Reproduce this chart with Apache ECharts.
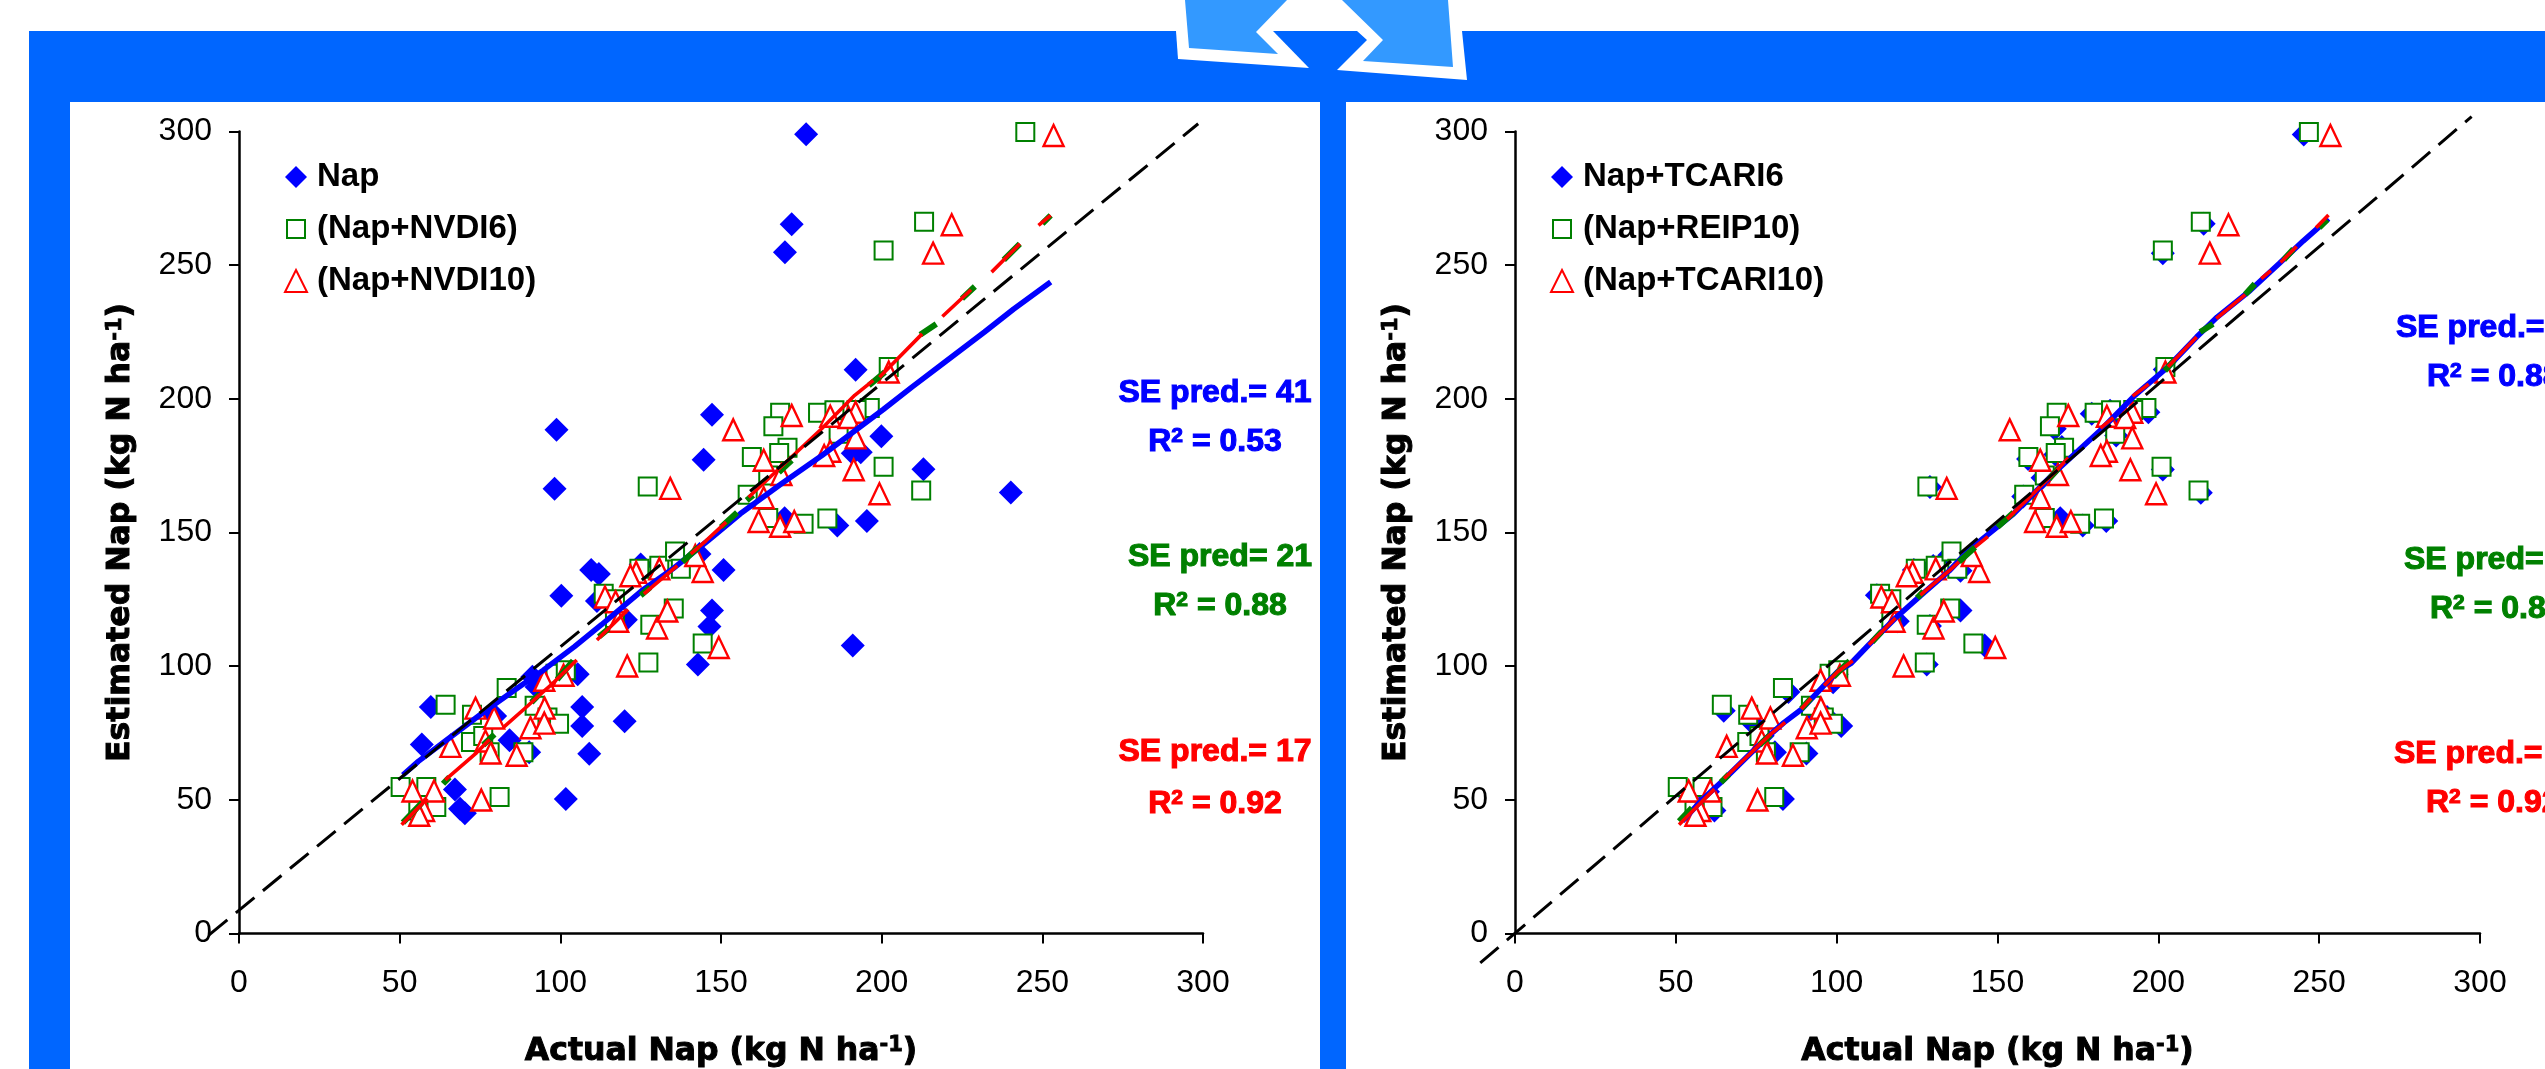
<!DOCTYPE html>
<html><head><meta charset="utf-8">
<style>html,body{margin:0;padding:0;background:#fff}#c{width:2545px;height:1069px}</style>
<script src="https://cdn.jsdelivr.net/npm/echarts@6/dist/echarts.min.js"></script>
</head><body><div id="c"></div>
<script>
const tickValues = [0, 50, 100, 150, 200, 250, 300];
const xTitle = 'Actual Nap (kg N ha{s|-1})';
const yTitle = 'Estimated Nap (kg N ha{s|-1})';
const legendLeft = ['Nap', '(Nap+NVDI6)', '(Nap+NVDI10)'];
const legendRight = ['Nap+TCARI6', '(Nap+REIP10)', '(Nap+TCARI10)'];

const napLeft = [[59.7,84.7],[56.9,70.7],[67.2,53.9],[68.8,46.7],[70.3,45],[84.2,72.3],[90.3,67.8],[79.7,81.4],[101.7,50.3],[109,67.2],[106.8,77.6],[106.8,84.7],[105.4,97],[120,79.4],[92.6,92.2],[91.3,96],[100.3,126.3],[109.6,136],[112,134.5],[111.4,124.4],[120.4,117.4],[125,138],[150.8,136],[147.2,120.8],[146.4,114.8],[142.8,100.6],[191,107.7],[143.3,142],[176.5,299],[172,265.3],[169.9,254.8],[191.9,210.9],[147.2,194],[144.6,177.2],[199.9,186],[213,173.7],[240.2,165],[195.4,154.3],[186.2,152.6],[169.8,155.3],[191,179.6],[193.5,180],[98.8,188.4],[98.2,166.4],[183,195]];
const greenLeft = [[50.3,54.8],[58.3,54.8],[61.4,47.3],[55.8,46],[64.3,85.6],[72.5,81.8],[72.2,71.6],[76,73.9],[78,67.8],[81.1,51.1],[83.3,91.8],[88.5,67.8],[92,85.2],[96,80.8],[99.6,78.5],[98.5,97.2],[101.7,98.5],[113.5,127.1],[117,125],[117,118],[124.6,136.4],[130.8,137.6],[128,115.5],[127.4,101.4],[135.3,121.6],[135.7,142.9],[137.5,136.4],[144.3,108.5],[244.7,299.8],[213.2,266.2],[200.6,255.5],[202.2,211.9],[168.4,194.8],[166.3,189.7],[180.2,194.8],[185.3,195.7],[196.3,196.6],[192.2,195.8],[186.6,186.9],[200.6,174.6],[212.3,165.7],[170.7,181.7],[168.1,179.7],[159.6,178.2],[164.7,171.3],[158.3,164.1],[164.7,155.4],[175.7,153.3],[183.1,155.2],[127.2,167.2]];
const redShared = [[54,53.3],[60.7,53.3],[57.6,46],[56.1,44.2],[65.8,70],[73.6,84.3],[76.7,72],[79.4,80.6],[78.3,67.5],[75.4,49.9],[86.4,66.7],[90.7,77],[95.1,84.3],[95,78.7],[95,94.7],[101,96.6],[120.8,100.1],[130.1,114.3],[133.3,120.6],[149.3,107],[118,116.8],[113.9,125.9],[117.2,124.1],[123.6,135.1],[130.8,136.4],[144.3,135.4],[142,141.4],[121.8,133.8],[253.5,298.5],[221.8,265.1],[216,254.5],[202.2,210],[153.8,188.4],[172,193.8],[184,193.5],[191.9,195],[189.7,193],[163.3,177],[191.9,185.4],[184,180.4],[182.1,178.8],[191.3,173.5],[168.8,171.7],[163.3,163],[199.3,164.5],[161.7,154.1],[168.4,152.3],[172.8,154.1],[134.2,166.5]];
const napRight = [[245.2,298.9],[214.1,265.5],[201.4,254.5],[213.2,164.9],[201.4,173.6],[183.8,154.3],[176.5,152.6],[169.5,155.3],[196.9,195],[186.9,186.3],[167.8,188.8],[179.3,194.4],[101.4,77.6],[90.6,67.3],[80.8,67.8],[83.3,50.3],[128,100.6],[146,107.7],[138.5,135.7],[138.5,120.8],[119,116.8],[64.9,83.3],[73.2,79.5],[85,90.3],[62,46],[98.9,94],[57.5,47],[52,54],[60,53],[75,72],[77,74],[92,84],[97,81],[100,97],[112.5,126.5],[116,124],[124,136],[130,137.5],[129,115],[135,141.5],[168,179.2],[159.5,177.5],[164,170.5],[158,163.5],[129,167],[164,155],[185,195.5],[192,195.5],[202,211],[186,193.5],[170,182],[171,180]];
const greenRight = [[50.6,54.8],[58.3,54.8],[61.4,47.3],[55.8,46],[64.3,85.6],[72.5,81.8],[72.2,71.6],[76,73.9],[78,67.8],[80.6,51.1],[83.3,91.8],[88.5,67.8],[92,85.2],[96,80.8],[98.8,78.5],[97.8,97.2],[100.5,98.5],[113.5,127.1],[117,125],[117,118],[124.6,136.4],[130.8,137.6],[128,115.5],[127.4,101.4],[135.3,121.6],[135.7,142.9],[137.5,136.4],[142.5,108.5],[246.8,299.8],[213.2,266.2],[201.4,255.5],[202.2,211.9],[168.4,194.8],[166.3,189.7],[180.2,194.8],[185.3,195.7],[196.3,196.6],[192.2,195.8],[186.6,186.9],[201,174.6],[212.5,165.7],[170.7,181.7],[168.1,179.7],[159.6,178.2],[164.7,171.3],[158.3,164.1],[164.7,155.4],[175.7,153.3],[183.1,155.2],[128.2,167.2]];

const blueLineLeft = [[51,59.3],[55.8,64.4],[64.2,72],[76.7,83.3],[87.8,92.8],[94.7,98.5],[104.4,107.3],[112.8,115.5],[125.3,128.2],[135,136.4],[146,147],[156,157],[168.8,168.2],[181.4,178.8],[200.5,196],[209.4,204.4],[219.6,213.7],[232,225],[241,233.5],[252.6,243.7]];
const greenLineLeft = [[51,41.5],[57,49],null,[63.5,56],[65.5,58.5],null,[76,70.5],[79.5,74.5],null,[91,86.5],[93.5,89.5],null,[99,95],[104,102],null,[112,111],[115,114],null,[125,126.5],[128,129.5],null,[138,139],[143,144.5],null,[150,152],[155,157.5],null,[158,162],[160,164],null,[168,172.5],[172,177],null,[196,205],[201,210],null,[212,224],[217,228],null,[225,237.5],[229,242],null,[238,252],[243,258],null,[250,265.5],[252.6,268.6]];
const redLineLeft = [[50.6,40.7],[58.6,50.5],null,[64.2,57.5],[73.9,67.6],[78,72.6],null,[82.2,77],[89.9,85.2],[93.3,89],[97.5,93.4],[105.1,102.3],null,[111.4,109.8],[121.1,121.2],null,[126,127],[136.4,137.6],null,[140.6,142],[145.4,147],[151.6,153.9],null,[158.6,163.2],[181.4,188.9],[191.6,201.3],[197.4,206.9],null,[199.3,208.1],[212.6,224.3],null,[218.9,230.8],[227.8,240.8],null,[234.2,247.4],[243,258],null,[248.8,264.9],[252.6,268.6]];
const blueLineRight = [[52,42],[58.6,50.5],[64.9,57.5],[73.9,68.2],[79.4,74.5],[83.6,78.9],[89.2,84],[96.1,92.8],[100.3,97.9],[104.4,101],[110,108],[118.3,118],[126,126.3],[135,135.7],[141.5,143.9],[155,157],[168.4,173.2],[182.5,188.8],[192.7,201.3],[203,211.9],[211.9,223.1],[218.3,230.6],[228.6,240.6],[237.5,250.5],[245,259],[252.9,267.4]];
const greenLineRight = [[51,42],[55,47],null,[64,56.5],[66.5,59.5],null,[76,70.5],[79.5,74.5],null,[89,84],[92,88],null,[99,96],[104,102],null,[111,109],[114,113],null,[125,125.5],[127,128],null,[138,139],[143,144.5],null,[150,152],[155,157.5],null,[166,170],[169,174],null,[202,210.5],[205,214.5],null,[213,225],[217,228],null,[227,239],[230,243],null,[239,252],[242,256],null,[250,264],[252.5,267]];
const redLineRight = [[51,40.7],[58.6,49.9],[62,54],null,[65,58],[73.9,68.2],[79.4,74.5],[84,79],null,[89,84],[92,88],null,[96.1,92.8],[100.3,97.9],[105,102],null,[110,108],[118.3,118],null,[126,126.6],[135,135.7],[138,139],null,[143,144.5],[147,148.5],null,[153,155],[168.4,173.2],[172,178],null,[182,189],[186,193],null,[192,201],[197,205.5],null,[203,212],[211.9,223.1],null,[218,230],[227,239],null,[232,245],[235,248],null,[238,251],[243,257],null,[249,264],[252.9,268.8]];

const oneLineLeft = [[-9.4,-0.6],[298.5,302.9]];
const oneLineRight = [[-10.8,-11],[297.4,305.6]];

const notesLeft = [
  {se:'SE pred.= 41', r:'0.53', color:'#0000FF', x:1215, y1:393, y2:442},
  {se:'SE pred= 21', r:'0.88', color:'#008000', x:1220, y1:557, y2:606},
  {se:'SE pred.= 17', r:'0.92', color:'#FF0000', x:1215, y1:752, y2:804}
];
const notesRight = [
  {se:'SE pred.= 21', r:'0.88', color:'#0000FF', x:2396, x2:2427, y1:328, y2:377},
  {se:'SE pred= 21', r:'0.88', color:'#008000', x:2404, x2:2430, y1:560, y2:609},
  {se:'SE pred.= 17', r:'0.92', color:'#FF0000', x:2394, x2:2426, y1:754, y2:803}
];

const FONT = '"Liberation Sans", Arial, sans-serif';
const TITLE_FONT = '"DejaVu Sans", sans-serif';
const chart = echarts.init(document.getElementById('c'), null, {renderer:'canvas'});
const BAND = '#0066FF', ARROW = '#3399FF';

function decor(){
  const g = [];
  const rect = (x,y,w,h,fill)=>g.push({type:'rect',silent:true,z:-100,shape:{x,y,width:w,height:h},style:{fill}});
  const poly = (pts,fill)=>g.push({type:'polygon',silent:true,z:-99,shape:{points:pts},style:{fill}});
  rect(29,31,2516,1038,BAND);
  rect(70,102,1250,967,'#fff');
  rect(1346,102,1199,967,'#fff');
  poly([[1176,31],[1178,59],[1309,68],[1273,31]],'#fff');
  poly([[1357,31],[1367,40],[1337,70],[1467,80],[1462,31]],'#fff');
  poly([[1185,0],[1189,48],[1278,54],[1256,32],[1287,0]],ARROW);
  poly([[1342,0],[1383,40],[1363,61],[1453,67],[1448,0]],ARROW);
  return g;
}
function notes(list, centered){
  const g = [];
  list.forEach(n=>{
    const base = {fontFamily:FONT,fontWeight:'bold',fontSize:32,fill:n.color,stroke:n.color,lineWidth:1.1};
    g.push({type:'text',z:100,silent:true,x:n.x,y:n.y1,style:Object.assign({},base,{text:n.se,align:centered?'center':'left',verticalAlign:'middle'})});
    g.push({type:'text',z:100,silent:true,x:centered?n.x:n.x2,y:n.y2,style:{text:'{a|R}{s|2}{a| = '+n.r+'}',align:centered?'center':'left',verticalAlign:'middle',fill:n.color,
      rich:{a:Object.assign({},base),s:Object.assign({},base,{fontSize:21,verticalAlign:'top'})}}});
  });
  return g;
}
function panel(i, names, blue, green, red, blueL, greenL, redL, oneL){
  return [
    {type:'scatter',name:names[0],xAxisIndex:i,yAxisIndex:i,clip:false,data:blue,symbol:'diamond',symbolSize:24,itemStyle:{color:'#0000FF',opacity:1},z:3},
    {type:'scatter',name:names[1],xAxisIndex:i,yAxisIndex:i,clip:false,data:green,symbol:'rect',symbolSize:18,itemStyle:{color:'#fff',borderColor:'#008000',borderWidth:2,opacity:1},z:4},
    {type:'scatter',name:names[2],xAxisIndex:i,yAxisIndex:i,clip:false,data:red,symbol:'triangle',symbolSize:[20,21],itemStyle:{color:'#fff',borderColor:'#FF0000',borderWidth:2.4,opacity:1},z:5},
    {type:'line',name:'fit-b'+i,xAxisIndex:i,yAxisIndex:i,data:blueL,showSymbol:false,clip:false,silent:true,lineStyle:{color:'#0000FF',width:5.5},z:6},
    {type:'line',name:'fit-g'+i,xAxisIndex:i,yAxisIndex:i,data:greenL,showSymbol:false,clip:false,silent:true,lineStyle:{color:'#008000',width:6},z:7},
    {type:'line',name:'fit-r'+i,xAxisIndex:i,yAxisIndex:i,data:redL,showSymbol:false,clip:false,silent:true,lineStyle:{color:'#FF0000',width:3.6},z:8},
    {type:'line',name:'one'+i,xAxisIndex:i+2,yAxisIndex:i+2,data:oneL,showSymbol:false,clip:false,silent:true,lineStyle:{color:'#000',width:3,type:[24,11]},z:9}
  ];
}
const axisCommon = {type:'value',min:0,max:300,interval:50,splitLine:{show:false},
  axisLine:{show:true,onZero:false,lineStyle:{color:'#000',width:2.5}},
  axisTick:{show:true,length:10,lineStyle:{color:'#000',width:2},inside:false},
  nameLocation:'middle',
  nameTextStyle:{fontFamily:TITLE_FONT,fontWeight:'bold',fontSize:31.5,color:'#000',textBorderColor:'#000',textBorderWidth:1,
    rich:{s:{fontFamily:TITLE_FONT,fontWeight:'bold',fontSize:21,color:'#000',textBorderColor:'#000',textBorderWidth:0.8,verticalAlign:'top'}}}};
const lab = (m)=>({fontFamily:FONT,fontSize:32,color:'#000',margin:m,showMinLabel:true,showMaxLabel:true});
function xA(i){return Object.assign({},axisCommon,{gridIndex:i,name:xTitle,nameGap:102,axisLabel:lab(34)});}
function yA(i){return Object.assign({},axisCommon,{gridIndex:i,name:yTitle,nameGap:102,axisLabel:lab(27)});}
function hiddenAxis(i,mn,mx){return {type:'value',gridIndex:i,min:mn,max:mx,show:false,splitLine:{show:false}};}
const SQUARE_ICON = 'path://M0 0h0zM22 22h0zM2 2h18v18H2z';
function leg(names,left){return {data:[{name:names[0]},{name:names[1],icon:SQUARE_ICON},{name:names[2]}],orient:'vertical',left,top:160.5,padding:0,itemWidth:22,itemHeight:22,itemGap:19,selectedMode:false,
  textStyle:{fontFamily:FONT,fontWeight:'bold',fontSize:33,color:'#000',padding:[0,0,0,5]}};}

const PXX = 964/300, PXY = 802/300, PXX2 = 965/300;
const G = {outerBoundsMode:'none',containLabel:false};
chart.setOption({
  animation:false,backgroundColor:'#fff',
  graphic:{elements:decor().concat(notes(notesLeft,true)).concat(notes(notesRight,false))},
  grid:[Object.assign({left:239,top:131.5,width:964,height:802},G),Object.assign({left:1515,top:131.5,width:965,height:802},G),
        Object.assign({left:239-40*PXX,top:131.5-20*PXY,width:340*PXX,height:360*PXY},G),Object.assign({left:1515-40*PXX2,top:131.5-20*PXY,width:340*PXX2,height:360*PXY},G)],
  xAxis:[xA(0),xA(1),hiddenAxis(2,-40,300),hiddenAxis(3,-40,300)],
  yAxis:[yA(0),yA(1),hiddenAxis(2,-40,320),hiddenAxis(3,-40,320)],
  legend:[leg(legendLeft,284),leg(legendRight,1550)],
  series:panel(0,legendLeft,napLeft,greenLeft,redShared,blueLineLeft,greenLineLeft,redLineLeft,oneLineLeft)
    .concat(panel(1,legendRight,napRight,greenRight,redShared,blueLineRight,greenLineRight,redLineRight,oneLineRight))
});
</script></body></html>
